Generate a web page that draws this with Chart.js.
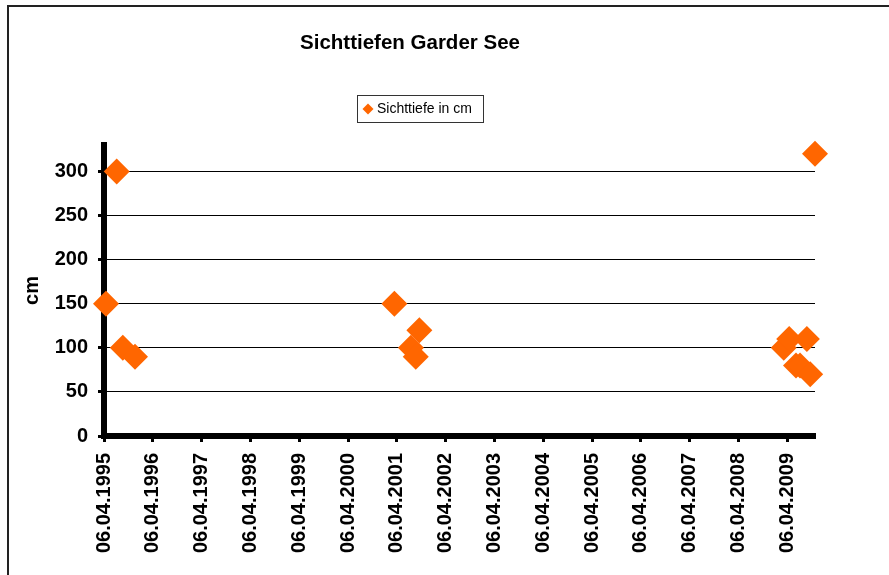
<!DOCTYPE html>
<html>
<head>
<meta charset="utf-8">
<script src="https://cdn.jsdelivr.net/npm/chart.js@4/dist/chart.umd.min.js"></script>
<style>
  html, body { margin: 0; padding: 0; background: #fff; }
  #wrap { width: 889px; height: 575px; }
</style>
</head>
<body>
<div id="wrap"><canvas id="c" width="889" height="575"></canvas></div>
<script>
const chartTitle = 'Sichttiefen Garder See';
const seriesName = 'Sichttiefe in cm';
const yAxisTitle = 'cm';
const sampleDates = ['21.04.1995','10.07.1995','25.08.1995','24.11.1995',
                     '18.03.2001','20.07.2001','25.08.2001','21.09.2001',
                     '10.03.2009','20.04.2009','10.06.2009','10.07.2009','30.08.2009','24.09.2009','30.10.2009'];
const depthValues = [150, 300, 100, 90,
                     150, 100, 90, 120,
                     100, 110, 80, 80, 110, 70, 320];
const xTickLabels = ['06.04.1995','06.04.1996','06.04.1997','06.04.1998','06.04.1999','06.04.2000',
                     '06.04.2001','06.04.2002','06.04.2003','06.04.2004','06.04.2005','06.04.2006',
                     '06.04.2007','06.04.2008','06.04.2009'];
const yTickValues = [0, 50, 100, 150, 200, 250, 300];
const yMin = 0, yMax = 330;

function parseDate(s) {
  const [d, m, y] = s.split('.').map(Number);
  return Date.UTC(y, m - 1, d);
}
function fmtDate(ms) {
  const dt = new Date(ms);
  const p = n => String(n).padStart(2, '0');
  return p(dt.getUTCDate()) + '.' + p(dt.getUTCMonth() + 1) + '.' + dt.getUTCFullYear();
}

const points = sampleDates.map((d, i) => ({ x: parseDate(d), y: depthValues[i] }));
const xTickValues = xTickLabels.map(parseDate);

const ORANGE = '#FF6600';
const FONT = '"Liberation Sans", Arial, sans-serif';

const decorPlugin = {
  id: 'decor',
  beforeDraw(chart) {
    const ctx = chart.ctx;
    ctx.save();
    ctx.fillStyle = '#fff';
    ctx.fillRect(0, 0, chart.width, chart.height);
    ctx.strokeStyle = '#222';
    ctx.lineWidth = 2;
    ctx.beginPath();
    ctx.moveTo(889, 6);
    ctx.lineTo(8, 6);
    ctx.lineTo(8, 575);
    ctx.stroke();
    ctx.restore();
  },
  afterDraw(chart) {
    const ctx = chart.ctx;
    ctx.save();
    ctx.fillStyle = '#000';
    ctx.font = 'bold 20.5px ' + FONT;
    ctx.textAlign = 'center';
    ctx.textBaseline = 'middle';
    ctx.fillText(chartTitle, 410, 43);
    ctx.strokeStyle = '#333';
    ctx.lineWidth = 1;
    ctx.strokeRect(357.5, 95.5, 126, 27);
    ctx.fillStyle = ORANGE;
    ctx.beginPath();
    const cx = 368, cy = 109, r = 5.5;
    ctx.moveTo(cx, cy - r); ctx.lineTo(cx + r, cy); ctx.lineTo(cx, cy + r); ctx.lineTo(cx - r, cy);
    ctx.closePath(); ctx.fill();
    ctx.fillStyle = '#000';
    ctx.font = '14px ' + FONT;
    ctx.textAlign = 'left';
    ctx.fillText(seriesName, 377, 109);
    ctx.restore();
  }
};

new Chart(document.getElementById('c'), {
  type: 'scatter',
  data: {
    datasets: [{
      label: seriesName,
      data: points,
      pointStyle: 'rectRot',
      pointRadius: 13,
      pointHoverRadius: 13,
      backgroundColor: ORANGE,
      borderColor: ORANGE,
      borderWidth: 0,
      clip: false
    }]
  },
  options: {
    responsive: false,
    animation: false,
    events: [],
    layout: { padding: { top: 145, right: 74, left: 0, bottom: 0 } },
    plugins: {
      legend: { display: false },
      title: { display: false },
      tooltip: { enabled: false }
    },
    scales: {
      x: {
        type: 'linear',
        min: parseDate(xTickLabels[0]),
        max: points[points.length - 1].x,
        afterBuildTicks(scale) { scale.ticks = xTickValues.map(v => ({ value: v })); },
        afterFit(scale) { scale.height = 139; },
        grid: {
          drawOnChartArea: false,
          drawTicks: true,
          tickLength: 6,
          tickWidth: 3,
          tickColor: '#000'
        },
        border: { display: true, color: '#000', width: 6 },
        ticks: {
          autoSkip: false,
          minRotation: 90,
          maxRotation: 90,
          padding: 11,
          color: '#000',
          font: { family: FONT, size: 20, weight: 'bold' },
          callback: (v) => fmtDate(v)
        }
      },
      y: {
        type: 'linear',
        min: yMin,
        max: yMax,
        afterBuildTicks(scale) { scale.ticks = yTickValues.map(v => ({ value: v })); },
        afterFit(scale) { scale.width = 104; },
        grid: {
          drawOnChartArea: true,
          color: '#000',
          lineWidth: 1,
          drawTicks: true,
          tickLength: 6,
          tickWidth: 3,
          tickColor: '#000'
        },
        border: { display: true, color: '#000', width: 6 },
        title: {
          display: true,
          text: yAxisTitle,
          color: '#000',
          font: { family: FONT, size: 20, weight: 'bold' },
          padding: { top: 20, bottom: 6 }
        },
        ticks: {
          padding: 10,
          color: '#000',
          font: { family: FONT, size: 20, weight: 'bold' },
          callback: (v) => String(v)
        }
      }
    }
  },
  plugins: [decorPlugin]
});
</script>
</body>
</html>
